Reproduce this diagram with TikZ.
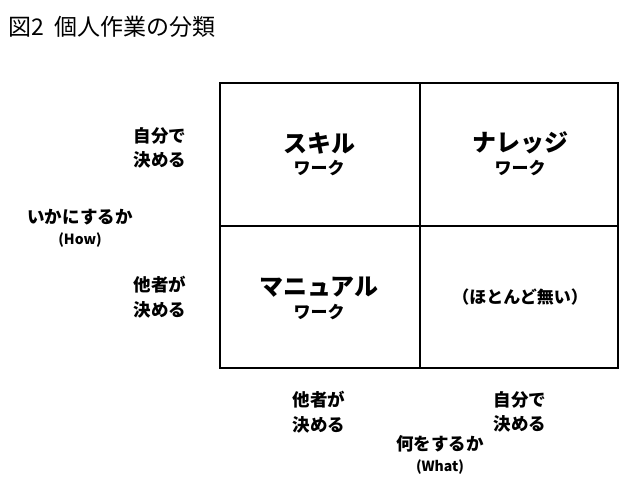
\documentclass[tikz,border=0pt]{standalone}
\usepackage{fontspec}
\setmainfont{Noto Sans CJK JP}
\begin{document}
\begin{tikzpicture}[x=1pt,y=-1pt,
  big/.style={font=\fontsize{24}{26}\selectfont\bfseries},
  mid/.style={font=\fontsize{17}{19}\selectfont\bfseries},
  lab/.style={font=\fontsize{17.5}{24.5}\selectfont\bfseries,align=center},
  sml/.style={font=\fontsize{14}{16}\selectfont\bfseries}]
\useasboundingbox (0,0) rectangle (640,492);
\node[anchor=west,font=\fontsize{23}{26}\selectfont,inner sep=0pt] (title) at (8,27) {図2\ \ 個人作業の分類};
\draw[line width=1.8pt] (220,83) rectangle (618,368);
\draw[line width=1.8pt] (420,83) -- (420,368);
\draw[line width=1.8pt] (220,226) -- (618,226);
\node[big] (s1) at (319,143) {スキル};
\node[mid] (s2) at (319,168) {ワーク};
\node[big] (n1) at (520,143) {ナレッジ};
\node[mid] (n2) at (520,168) {ワーク};
\node[big] (m1) at (319,287) {マニュアル};
\node[mid] (m2) at (319,312) {ワーク};
\node[mid] (h) at (520,297) {（ほとんど無い）};
\node[lab] (l1) at (160,148) {自分で\\決める};
\node[lab] (l2) at (160,297) {他者が\\決める};
\node[lab] (how) at (80,217) {いかにするか};
\node[sml] (how2) at (80,240) {(How)};
\node[lab] (b1) at (319,412) {他者が\\決める};
\node[lab] (b2) at (520,412) {自分で\\決める};
\node[lab] (what) at (440,444) {何をするか};
\node[sml] (what2) at (440,467) {(What)};
\end{tikzpicture}
\end{document}
